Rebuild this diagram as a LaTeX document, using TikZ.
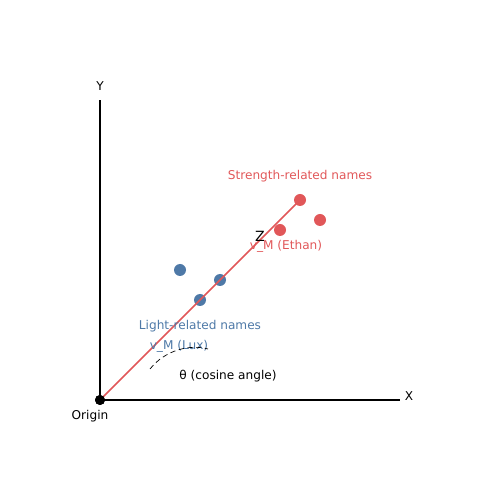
\documentclass[tikz,border=0pt]{standalone}
\usepackage{fontspec}
\setmainfont{DejaVu Sans}
\definecolor{lightblue}{HTML}{4E79A7}
\definecolor{strengthred}{HTML}{E15759}
\begin{document}
\begin{tikzpicture}[x=0.02cm, y=0.02cm,
        every node/.style={font=\fontsize{6.9}{8.2}\selectfont},
        pt/.style={circle, inner sep=0pt, minimum size=0.24cm}]
        
        \useasboundingbox (0,0) rectangle (500,500);
        
        % Axes
        \node[circle, fill=black, inner sep=0pt, minimum size=0.2cm] (o) at (100,100) {};
        \coordinate (xend) at (400,100);
        \coordinate (yend) at (100,400);
        \draw[line width=1.2pt] (o.center) -- (xend);
        \draw[line width=1.2pt] (o.center) -- (yend);
        \node (xlab) at (409,104) {X};
        \node (ylab) at (100,414) {Y};
        \node (olab) at (90,84) {Origin};
        
        % Light-related names
        \foreach \i/\x/\y in {1/180/230, 2/200/200, 3/220/220} {
            \node[pt, fill=lightblue] (b\i) at (\x,\y) {};
        }
        
        % Strength-related names
        \foreach \i/\x/\y in {1/280/270, 2/300/300, 3/320/280} {
            \node[pt, fill=strengthred] (r\i) at (\x,\y) {};
        }
        
        \draw[strengthred, line width=1pt] (o.center) -- (r2.center);
        \node[circle, fill=black, inner sep=0pt, minimum size=0.2cm] at (o) {};
        
        % Labels
        \node[text=strengthred] (strength) at (300,324) {Strength-related names};
        \node (z) at (260,264) {\fontsize{8}{9}\selectfont Z};
        \node[text=strengthred] (ethan) at (286,254) {v\_M (Ethan)};
        \node[text=lightblue] (light) at (200,174) {Light-related names};
        \node[text=lightblue] (lux) at (179,154) {v\_M (Lux)};
        \node (theta) at (228,124) {θ (cosine angle)};
        
        % Angle arc
        \draw[densely dashed, line width=0.4pt] (150,131) .. controls (165,150) and (190,156) .. (208,151);
    \end{tikzpicture}
\end{document}
